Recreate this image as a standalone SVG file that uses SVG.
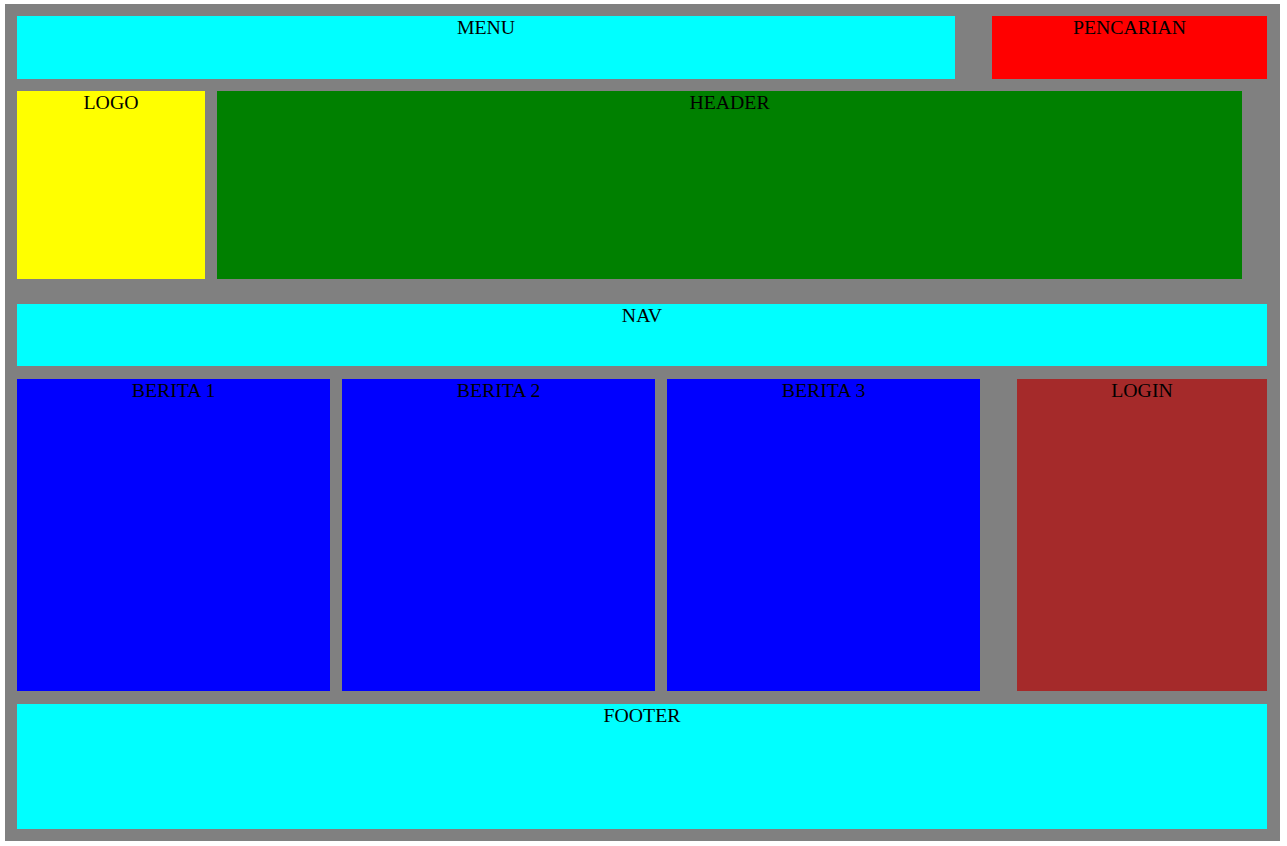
<svg xmlns="http://www.w3.org/2000/svg" width="1287" height="846" viewBox="0 0 1287 846">
<style>
text{font-family:"Liberation Serif","Times New Roman",serif;font-size:19.8px;fill:#000;text-anchor:middle}
</style>
<rect x="0" y="0" width="1287" height="846" fill="#fff"/>
<rect id="container" x="5" y="4" width="1275" height="837" fill="#808080"/>
<g id="menu"><rect x="17" y="16" width="938" height="63" fill="#00ffff"/><text x="486" y="34">MENU</text></g>
<g id="pencarian"><rect x="992" y="16" width="275" height="63" fill="#ff0000"/><text x="1129.5" y="34">PENCARIAN</text></g>
<g id="logo"><rect x="17" y="91" width="188" height="188" fill="#ffff00"/><text x="111" y="109">LOGO</text></g>
<g id="header"><rect x="217" y="91" width="1025" height="188" fill="#008000"/><text x="729.5" y="109">HEADER</text></g>
<g id="nav"><rect x="17" y="304" width="1250" height="62" fill="#00ffff"/><text x="642" y="322">NAV</text></g>
<g id="berita1"><rect x="17" y="379" width="313" height="312" fill="#0000ff"/><text x="173.5" y="397">BERITA 1</text></g>
<g id="berita2"><rect x="342" y="379" width="313" height="312" fill="#0000ff"/><text x="498.5" y="397">BERITA 2</text></g>
<g id="berita3"><rect x="667" y="379" width="313" height="312" fill="#0000ff"/><text x="823.5" y="397">BERITA 3</text></g>
<g id="login"><rect x="1017" y="379" width="250" height="312" fill="#a52a2a"/><text x="1142" y="397">LOGIN</text></g>
<g id="footer"><rect x="17" y="704" width="1250" height="125" fill="#00ffff"/><text x="642" y="722">FOOTER</text></g>
<g id="connectors"/>
</svg>
